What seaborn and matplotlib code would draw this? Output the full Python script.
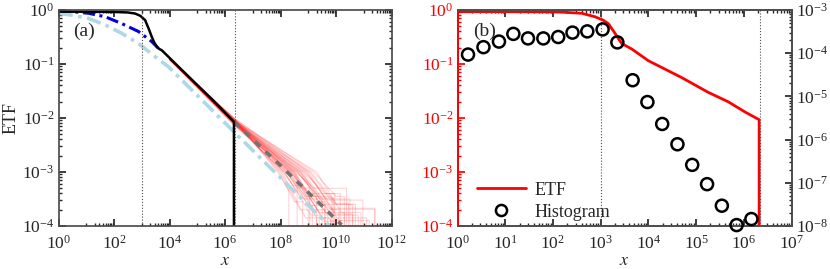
import numpy as np
import pandas as pd
import matplotlib
matplotlib.use("Agg")
import matplotlib.pyplot as plt
import matplotlib.ticker as mticker
from matplotlib.lines import Line2D
import seaborn as sb

# ---- data ----
# panel (a): empirical tail function of the data
etf_x = [1, 10, 100, 316, 575, 890, 1320, 1780, 2290, 2820, 3470, 4270, 5250, 27500, 3.16e5, 2.1e6, 2.1e6]
etf_y = [0.93, 0.93, 0.92, 0.90, 0.86, 0.78, 0.65, 0.45, 0.32, 0.25, 0.21, 0.19, 0.18, 0.078, 0.023, 0.0085, 1e-6]

# dark blue dash-dot fit
fit1_x = [1, 3.16, 12, 48, 190, 760, 2290, 3980]
fit1_y = [0.97, 0.93, 0.87, 0.75, 0.56, 0.40, 0.26, 0.195]

# light blue dash-dot fit
fit2_x = [1, 3.16, 12, 48, 190, 760, 3020, 9120, 6.6e5, 5.2e9, 1e10]
fit2_y = [0.87, 0.80, 0.70, 0.53, 0.37, 0.24, 0.137, 0.089, 0.010, 1.05e-4, 7.5e-5]

# grey dashed extrapolation
ext_x = [2.1e6, 1.1e8, 2.6e9, 9.1e9, 1.6e10]
ext_y = [0.0085, 1.26e-3, 2.6e-4, 1.38e-4, 1.05e-4]

# pink synthetic tails, one entry per realisation (log10 values)
pink_y2_log = [-2.00, -2.03, -2.05, -2.07, -2.08, -2.10, -2.12, -2.04, -2.06, -2.09, -2.02, -2.11,
               -2.07, -2.05, -2.13, -2.08, -2.01, -2.06, -2.10, -2.04, -2.09, -2.07, -2.03, -2.12,
               -2.05, -2.08, -2.02, -2.06, -2.09, -2.04, -2.00, -2.07, -2.03, -2.01, -2.05, -2.11]
pink_xmid_log = [7.90, 7.95, 8.00, 8.05, 8.10, 8.12, 8.15, 8.20, 8.22, 8.25, 8.30, 8.32,
                 8.35, 8.40, 8.42, 8.45, 8.48, 8.50, 8.52, 8.55, 8.60, 8.62, 8.65, 8.70,
                 8.72, 8.75, 8.80, 8.85, 8.90, 8.95, 9.00, 9.05, 9.10, 9.20, 9.30, 8.38]
pink_xstep_log = [8.30, 8.50, 8.70, 8.90, 8.80, 8.45, 9.10, 8.90, 9.00, 9.30, 9.20, 8.70,
                  9.00, 9.40, 9.25, 9.60, 9.10, 9.30, 9.50, 9.20, 9.70, 9.40, 9.70, 9.50,
                  9.80, 9.90, 9.80, 9.60, 9.70, 10.00, 10.10, 9.90, 10.00, 10.00, 10.20, 8.95]
pink_ylast_log = [-3.35, -3.55, -3.70, -3.85, -3.50, -3.25, -3.80, -3.45, -3.62, -3.85, -3.70, -3.30,
                  -3.40, -3.75, -3.55, -3.92, -3.62, -3.60, -3.85, -3.30, -3.67, -3.48, -3.80, -3.50,
                  -3.90, -3.85, -3.69, -3.40, -3.52, -3.78, -3.90, -3.58, -3.60, -3.45, -3.75, -3.45]
pink_xmax_log = [8.30, 8.80, 9.00, 9.30, 9.50, 8.60, 9.40, 9.85, 9.15, 9.70, 10.10, 9.05,
                 9.95, 10.30, 9.60, 10.00, 9.60, 10.60, 9.80, 10.38, 11.40, 9.90, 10.80, 10.50,
                 10.20, 11.10, 11.40, 10.15, 10.97, 10.60, 11.20, 10.45, 10.70, 10.30, 10.90, 9.30]

# panel (b)
etf_b_x = [1, 1, 10, 100, 160, 400, 760, 1120, 1450, 2000, 2750, 4470, 1e4, 5e4, 1.78e5, 4.7e5, 1.05e6, 2.1e6, 2.1e6]
etf_b_y = [1e-6, 0.93, 0.93, 0.92, 0.91, 0.87, 0.75, 0.65, 0.56, 0.37, 0.24, 0.19, 0.115, 0.056, 0.030, 0.020, 0.013, 0.0093, 1e-6]

hist_x = [1.66, 3.5, 7.4, 14.8, 30, 63, 129, 257, 525, 1100, 2240, 4680, 9550, 19500,
          40700, 83000, 1.7e5, 3.47e5, 7.08e5, 1.445e6]
hist_y = [9.3e-5, 1.38e-4, 1.86e-4, 2.8e-4, 2.2e-4, 2.2e-4, 2.37e-4, 3.0e-4, 3.2e-4, 3.55e-4,
          1.78e-4, 2.37e-5, 7.4e-6, 2.3e-6, 7.8e-7, 2.6e-7, 9.3e-8, 2.95e-8, 1.05e-8, 1.45e-8]

# ---- style ----
sb.set_theme(style="ticks")
plt.rcParams["font.family"] = ["Liberation Serif", "DejaVu Serif"]
plt.rcParams["mathtext.fontset"] = "stix"
plt.rcParams["xtick.direction"] = "in"
plt.rcParams["ytick.direction"] = "in"
plt.rcParams["xtick.major.size"] = 5
plt.rcParams["ytick.major.size"] = 5
plt.rcParams["xtick.minor.size"] = 2.5
plt.rcParams["ytick.minor.size"] = 2.5
plt.rcParams["axes.edgecolor"] = "0.3"

fig = plt.figure(figsize=(8.3, 2.69), dpi=100)
ax_a = fig.add_axes([58.5 / 830, 1 - 226 / 269, 333 / 830, 216 / 269])
ax_b = fig.add_axes([457.5 / 830, 1 - 226 / 269, 334 / 830, 216 / 269])

def log_axis(ax):
    ax.set_xscale("log")
    ax.set_yscale("log")
    ax.tick_params(which="both", top=True, right=True, labelsize=12.5)
    ax.tick_params(axis="x", pad=6)
    ax.tick_params(axis="y", pad=3)

# ---- panel (a) ----
log_axis(ax_a)
rows = []
for i in range(len(pink_xmid_log)):
    px = [1e4, 2.1e6, 10 ** pink_xmid_log[i], 10 ** pink_xstep_log[i], 10 ** pink_xmax_log[i], 10 ** pink_xmax_log[i]]
    py = [0.123, 10 ** pink_y2_log[i], 1e-3, 10 ** pink_ylast_log[i], 10 ** pink_ylast_log[i], 1e-6]
    for k in range(len(px)):
        rows.append({"run": i, "x": px[k], "y": py[k]})
pink = pd.DataFrame(rows)
sb.lineplot(data=pink, x="x", y="y", units="run", estimator=None, sort=False,
            color="red", alpha=0.17, lw=0.8, ax=ax_a)

sb.lineplot(x=fit2_x, y=fit2_y, sort=False, estimator=None, color="lightblue",
            lw=2.6, linestyle=(0, (4, 1.5, 1, 1.5)), ax=ax_a)
sb.lineplot(x=ext_x, y=ext_y, sort=False, estimator=None, color="0.45",
            lw=2.6, linestyle=(0, (2, 2)), ax=ax_a)
sb.lineplot(x=fit1_x, y=fit1_y, sort=False, estimator=None, color="#0000dd",
            lw=2.2, linestyle=(0, (4, 1.5, 1, 1.5)), ax=ax_a)
sb.lineplot(x=etf_x, y=etf_y, sort=False, estimator=None, color="black", lw=1.8, ax=ax_a)

for xv in [1e3, 2.2e6]:
    ax_a.axvline(xv, color="0.3", ls=":", lw=0.8)

ax_a.set_xlim(1, 1e12)
ax_a.set_ylim(1e-4, 1)
ax_a.xaxis.set_major_locator(mticker.FixedLocator([10.0 ** p for p in range(0, 13, 2)]))
ax_a.xaxis.set_minor_locator(mticker.FixedLocator([m * 10.0 ** d for d in range(1, 12, 2) for m in range(1, 10)]))
ax_a.xaxis.set_minor_formatter(mticker.NullFormatter())
ax_a.yaxis.set_major_locator(mticker.LogLocator(base=10, numticks=10))
ax_a.yaxis.set_minor_locator(mticker.LogLocator(base=10, subs=np.arange(2, 10), numticks=20))
ax_a.set_xlabel("$x$", fontsize=13, labelpad=0)
ax_a.set_ylabel("ETF", fontsize=13, labelpad=2)
ax_a.text(0.045, 0.88, "(a)", transform=ax_a.transAxes, fontsize=14)

# ---- panel (b) ----
log_axis(ax_b)
ax_b.tick_params(which="both", right=False, axis="y", colors="red")
ax_b.spines["left"].set_color("red")
sb.lineplot(x=etf_b_x, y=etf_b_y, sort=False, estimator=None, color="red", lw=2, ax=ax_b)
for xv in [1e3, 2.2e6]:
    ax_b.axvline(xv, color="0.3", ls=":", lw=0.8)
ax_b.set_xlim(1, 1e7)
ax_b.set_ylim(1e-4, 1)
ax_b.xaxis.set_major_locator(mticker.LogLocator(base=10, numticks=10))
ax_b.xaxis.set_minor_locator(mticker.LogLocator(base=10, subs=np.arange(2, 10), numticks=20))
ax_b.yaxis.set_major_locator(mticker.LogLocator(base=10, numticks=10))
ax_b.yaxis.set_minor_locator(mticker.LogLocator(base=10, subs=np.arange(2, 10), numticks=20))
ax_b.set_xlabel("$x$", fontsize=13, labelpad=0)
ax_b.text(0.048, 0.88, "(b)", transform=ax_b.transAxes, fontsize=14)

ax_r = ax_b.twinx()
ax_r.set_yscale("log")
sb.scatterplot(x=hist_x, y=hist_y, ax=ax_r, marker="o", s=75, facecolor="none",
               edgecolor="black", linewidth=1.8, zorder=5, clip_on=False)
ax_r.set_ylim(1e-8, 1e-3)
ax_r.yaxis.set_major_locator(mticker.LogLocator(base=10, numticks=10))
ax_r.yaxis.set_minor_locator(mticker.LogLocator(base=10, subs=np.arange(2, 10), numticks=20))
ax_r.tick_params(which="both", direction="in", labelsize=12.5, pad=3)
ax_r.spines["left"].set_color("red")

handles = [Line2D([], [], color="red", lw=2),
           Line2D([], [], marker="o", ls="none", markerfacecolor="none",
                  markeredgecolor="black", markeredgewidth=1.8, markersize=8)]
ax_r.legend(handles, ["ETF", "Histogram"], loc="lower left", bbox_to_anchor=(0.0, -0.067),
            frameon=False, fontsize=13, handlelength=2.67, handletextpad=0.5,
            labelspacing=0.27, borderaxespad=0.7)

fig.savefig("out.png", dpi=100)
